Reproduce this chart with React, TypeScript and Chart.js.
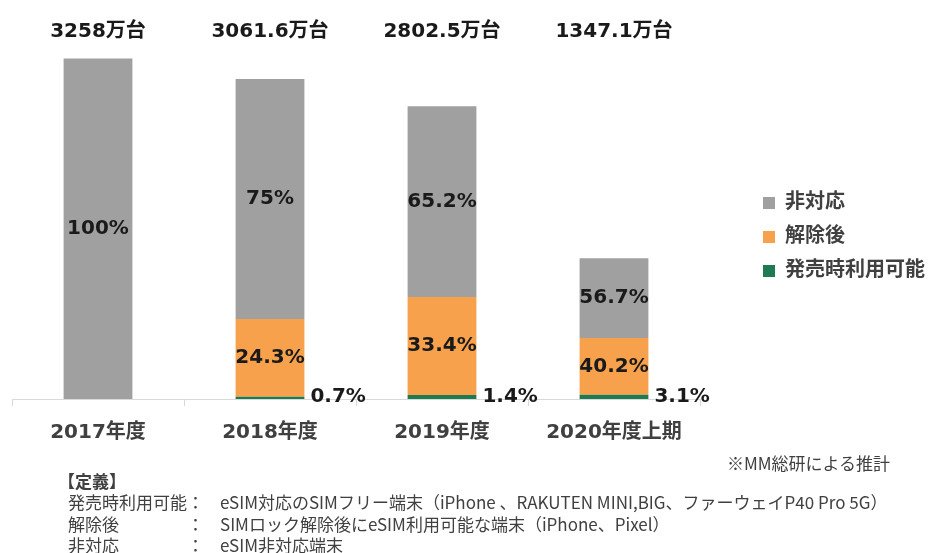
import React, { useEffect, useRef } from 'react';
import { Chart, registerables } from 'chart.js';

Chart.register(...registerables);

const categories = ['2017年度', '2018年度', '2019年度', '2020年度上期'];
const totals = [3258, 3061.6, 2802.5, 1347.1];
const totalLabels = ['3258万台', '3061.6万台', '2802.5万台', '1347.1万台'];
const pctAvailable = [0, 0.7, 1.4, 3.1];
const pctUnlocked = [0, 24.3, 33.4, 40.2];
const pctUnsupported = [100, 75, 65.2, 56.7];
const seriesNames = ['発売時利用可能', '解除後', '非対応'];
const seriesColors = ['#1E7A50', '#F7A14C', '#A0A0A0'];

const pctSets = [pctAvailable, pctUnlocked, pctUnsupported];

const FONT = '"DejaVu Sans", "Noto Sans CJK JP", sans-serif';
const NOTE_FONT = '"Noto Sans CJK JP", sans-serif';

const segLabelPlugin = {
  id: 'segLabels',
  afterDatasetsDraw(chart: any) {
    const ctx = chart.ctx;
    ctx.save();
    ctx.font = `bold 20px ${FONT}`;
    ctx.fillStyle = '#1a1a1a';
    ctx.textBaseline = 'middle';
    chart.data.datasets.forEach((_ds: any, di: number) => {
      const meta = chart.getDatasetMeta(di);
      meta.data.forEach((bar: any, i: number) => {
        const pct = pctSets[di][i];
        if (!pct) return;
        const { x, y, base, width } = bar.getProps(['x', 'y', 'base', 'width'], true);
        const text = `${pct}%`;
        if (di === 0) {
          ctx.textAlign = 'left';
          ctx.fillText(text, x + width / 2 + 6, base - 2);
        } else {
          ctx.textAlign = 'center';
          ctx.fillText(text, x, (y + base) / 2);
        }
      });
    });
    ctx.restore();
  },
};

export default function App() {
  const canvasRef = useRef<HTMLCanvasElement | null>(null);

  useEffect(() => {
    document.body.style.margin = '0';
    const canvas = canvasRef.current;
    if (!canvas) return;
    const chart = new Chart(canvas, {
      type: 'bar',
      data: {
        labels: categories,
        datasets: seriesNames.map((name, di) => ({
          label: name,
          data: totals.map((t, i) => (t * pctSets[di][i]) / 100),
          backgroundColor: seriesColors[di],
          borderWidth: 0,
          categoryPercentage: 1,
          barPercentage: 0.4,
        })),
      },
      options: {
        animation: false,
        responsive: true,
        maintainAspectRatio: false,
        layout: { padding: { left: 12, top: 14, right: 0, bottom: 0 } },
        plugins: {
          legend: {
            position: 'right',
            reverse: true,
            labels: {
              boxWidth: 12,
              boxHeight: 12,
              padding: 14,
              color: '#404040',
              font: { family: FONT, size: 20, weight: 'bold' },
            },
          },
          tooltip: { enabled: false },
        },
        scales: {
          x: {
            stacked: true,
            offset: true,
            grid: {
              display: true,
              drawOnChartArea: false,
              drawTicks: true,
              tickLength: 7,
              color: '#d9d9d9',
              offset: true,
            },
            border: { display: true, color: '#d9d9d9', width: 1 },
            ticks: {
              color: '#404040',
              font: { family: FONT, size: 20, weight: 'bold' },
              padding: 15,
              maxRotation: 0,
              autoSkip: false,
            },
            afterFit: (s: any) => {
              s.height = 61;
            },
          },
          x2: {
            type: 'category',
            position: 'top',
            labels: totalLabels,
            offset: true,
            grid: { display: false, drawTicks: false },
            border: { display: false },
            ticks: {
              color: '#1a1a1a',
              font: { family: FONT, size: 20, weight: 'bold' },
              padding: 6,
              maxRotation: 0,
              autoSkip: false,
            },
          },
          y: {
            stacked: true,
            position: 'right',
            min: 0,
            max: 3340,
            grid: { display: false, drawTicks: false },
            border: { display: false },
            ticks: { display: false },
            afterFit: (s: any) => {
              s.width = 49;
            },
          },
        },
      },
      plugins: [segLabelPlugin],
    } as any);
    return () => chart.destroy();
  }, []);

  const rowLabel: React.CSSProperties = { whiteSpace: 'nowrap' };
  const defs: [string, string][] = [
    ['発売時利用可能', 'eSIM対応のSIMフリー端末（iPhone 、RAKUTEN MINI,BIG、ファーウェイP40 Pro 5G）'],
    ['解除後', 'SIMロック解除後にeSIM利用可能な端末（iPhone、Pixel）'],
    ['非対応', 'eSIM非対応端末'],
  ];

  return (
    <div style={{ position: 'relative', width: 935, height: 553, overflow: 'hidden', background: '#fff' }}>
      <div style={{ position: 'absolute', left: 0, top: 0, width: 935, height: 460 }}>
        <canvas ref={canvasRef} />
      </div>
      <div
        style={{
          position: 'absolute',
          right: 45,
          top: 453,
          fontFamily: NOTE_FONT,
          fontSize: 17,
          lineHeight: '20px',
          color: '#404040',
          whiteSpace: 'nowrap',
        }}
      >
        ※MM総研による推計
      </div>
      <div
        style={{
          position: 'absolute',
          left: 58,
          top: 470,
          fontFamily: NOTE_FONT,
          fontSize: 17,
          lineHeight: '21.3px',
          color: '#404040',
        }}
      >
        <div style={{ fontWeight: 'bold' }}>【定義】</div>
        <div
          style={{
            display: 'grid',
            gridTemplateColumns: '119px 17px auto',
            paddingLeft: 10,
          }}
        >
          {defs.map(([k, v]) => (
            <React.Fragment key={k}>
              <div style={rowLabel}>{k}</div>
              <div>：</div>
              <div style={{ paddingLeft: 16, whiteSpace: 'nowrap' }}>{v}</div>
            </React.Fragment>
          ))}
        </div>
      </div>
    </div>
  );
}
